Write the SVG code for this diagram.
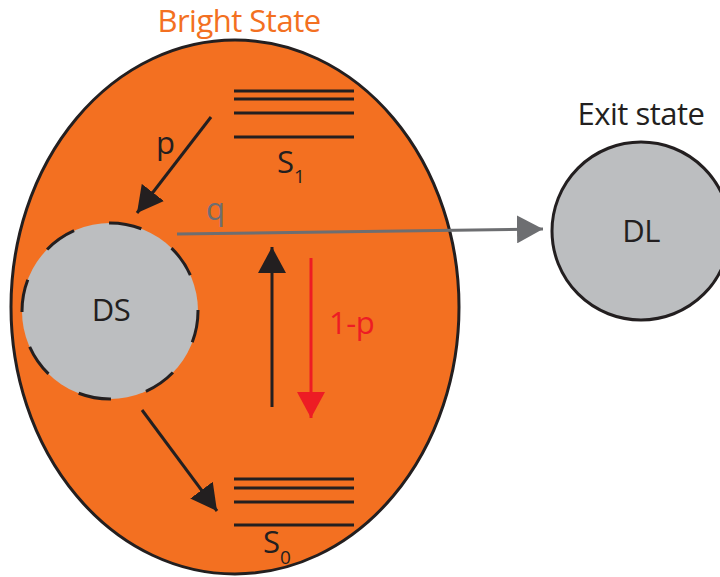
<svg xmlns="http://www.w3.org/2000/svg" width="720" height="577" viewBox="0 0 720 577">
  <defs>
    <style>
      .lbl { font-family: "Open Sans", "Liberation Sans", sans-serif; font-size: 31px; letter-spacing: -0.5px; fill: #231f20; }
      .sub { font-family: "Open Sans", "Liberation Sans", sans-serif; font-size: 19px; fill: #231f20; }
      .level { stroke: #231f20; stroke-width: 3; }
      .state { fill: #bcbec0; }
    </style>
    <marker id="headBlack" viewBox="0 0 26 28" refX="26" refY="14" markerWidth="26" markerHeight="28" markerUnits="userSpaceOnUse" orient="auto">
      <path d="M0,0 L26,14 L0,28 Z" fill="#231f20"/>
    </marker>
    <marker id="headRed" viewBox="0 0 26 28" refX="26" refY="14" markerWidth="26" markerHeight="28" markerUnits="userSpaceOnUse" orient="auto">
      <path d="M0,0 L26,14 L0,28 Z" fill="#ed1c24"/>
    </marker>
    <marker id="headGray" viewBox="0 0 26 28" refX="26" refY="14" markerWidth="26" markerHeight="28" markerUnits="userSpaceOnUse" orient="auto">
      <path d="M0,0 L26,14 L0,28 Z" fill="#6d6e71"/>
    </marker>
  </defs>

  <rect width="720" height="577" fill="#ffffff"/>

  <!-- Bright state container -->
  <g id="bright-state">
    <ellipse cx="235" cy="307" rx="224" ry="267" fill="#f37021" stroke="#231f20" stroke-width="3"/>
    <text x="239" y="32" text-anchor="middle" class="lbl" style="fill:#f37021">Bright State</text>
  </g>

  <!-- Excited levels S1 -->
  <g id="s1">
    <line class="level" x1="234" y1="91" x2="354" y2="91"/>
    <line class="level" x1="234" y1="99" x2="354" y2="99"/>
    <line class="level" x1="234" y1="113" x2="354" y2="113"/>
    <line class="level" x1="234" y1="137" x2="354" y2="137"/>
    <text x="277" y="173" class="lbl">S</text>
    <text x="294" y="183" class="sub">1</text>
  </g>

  <!-- Ground levels S0 -->
  <g id="s0">
    <line class="level" x1="234" y1="479" x2="354" y2="479"/>
    <line class="level" x1="234" y1="488" x2="354" y2="488"/>
    <line class="level" x1="234" y1="502" x2="354" y2="502"/>
    <line class="level" x1="234" y1="525" x2="354" y2="525"/>
    <text x="263" y="553" class="lbl">S</text>
    <text x="280" y="564" class="sub">0</text>
  </g>

  <!-- Dark state -->
  <g id="ds">
    <circle class="state" cx="110" cy="311" r="88" stroke="#231f20" stroke-width="3" pathLength="552" stroke-dasharray="33 36" stroke-dashoffset="-413"/>
    <text x="111" y="321" text-anchor="middle" class="lbl">DS</text>
  </g>

  <!-- Exit state -->
  <g id="dl">
    <circle class="state" cx="641" cy="231" r="89" stroke="#231f20" stroke-width="3"/>
    <text x="641" y="242" text-anchor="middle" class="lbl">DL</text>
    <text x="641" y="125" text-anchor="middle" class="lbl">Exit state</text>
  </g>

  <!-- Transitions -->
  <g id="connectors">
    <line x1="211" y1="117" x2="137" y2="213" stroke="#231f20" stroke-width="3" marker-end="url(#headBlack)"/>
    <text x="156" y="154" class="lbl">p</text>

    <line x1="142" y1="410" x2="217" y2="511" stroke="#231f20" stroke-width="3" marker-end="url(#headBlack)"/>

    <line x1="272" y1="407" x2="272" y2="247" stroke="#231f20" stroke-width="3" marker-end="url(#headBlack)"/>

    <line x1="311" y1="258" x2="311" y2="418" stroke="#ed1c24" stroke-width="3" marker-end="url(#headRed)"/>
    <text x="329" y="334" class="lbl" style="fill:#ed1c24">1-p</text>

    <line x1="177" y1="234" x2="543" y2="229" stroke="#6d6e71" stroke-width="3" marker-end="url(#headGray)"/>
    <text x="206" y="220" class="lbl" style="fill:#6d6e71">q</text>
  </g>
</svg>
